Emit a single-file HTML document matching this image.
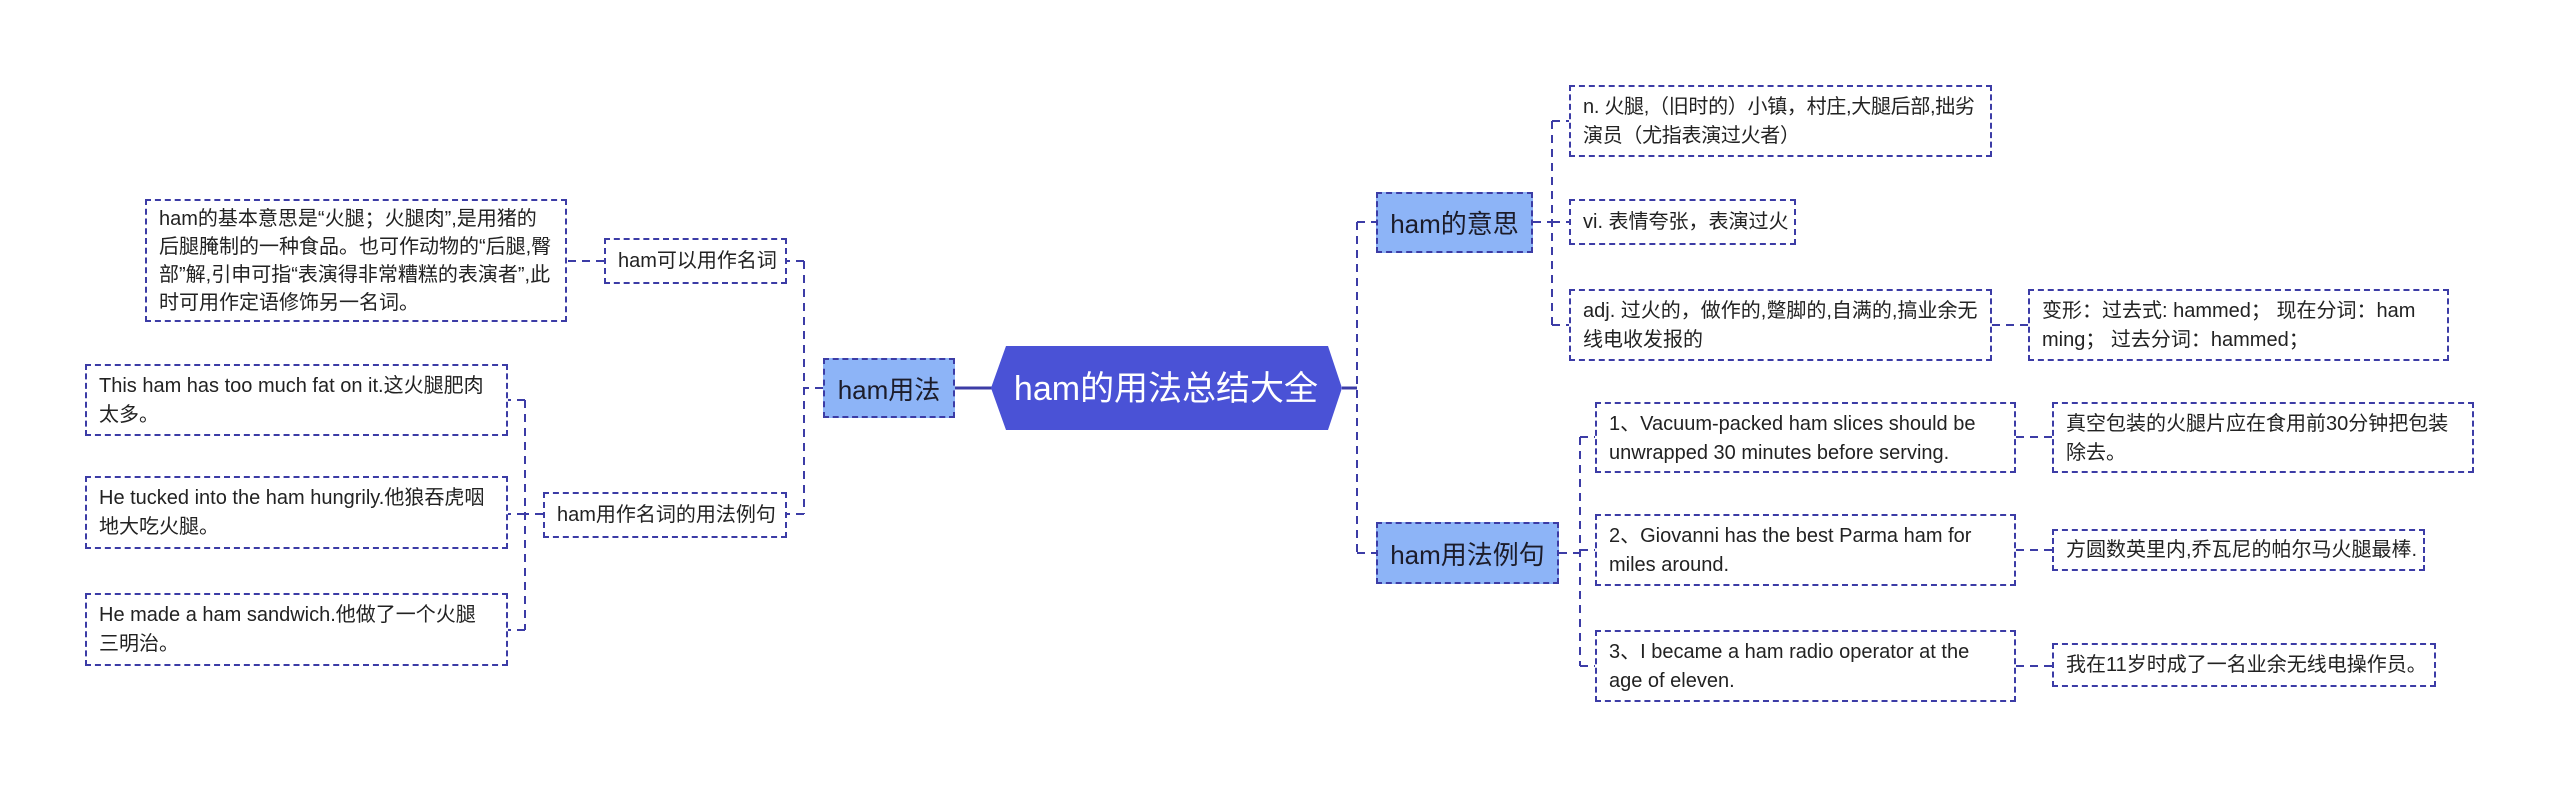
<!DOCTYPE html>
<html><head><meta charset="utf-8"><style>
html,body{margin:0;padding:0;background:#fff;}
body{width:2560px;height:789px;position:relative;overflow:hidden;font-family:"Liberation Sans","Noto Sans CJK SC",sans-serif;color:#222;}
.b{position:absolute;box-sizing:border-box;border:2px dashed #3c3ca6;font-size:20px;line-height:29px;padding:6px 12px;background:#fff;}
.nw{white-space:nowrap;overflow:hidden;}
.s{display:flex;align-items:center;white-space:nowrap;}
.br{position:absolute;box-sizing:border-box;border:2px dashed #3c3ca6;background:#8db4f7;font-size:26px;display:flex;align-items:center;justify-content:center;color:#1c1c2a;}
svg{position:absolute;left:0;top:0;}
</style></head><body>
<svg width="2560" height="789">
<g stroke="#3c3ca6" stroke-width="2" fill="none" stroke-dasharray="8,6">
<line x1="823" y1="388" x2="804" y2="388"/>
<line x1="804" y1="261" x2="804" y2="514"/>
<line x1="804" y1="261" x2="786" y2="261"/>
<line x1="804" y1="514" x2="786" y2="514"/>
<line x1="604" y1="261" x2="567" y2="261"/>
<line x1="543" y1="514" x2="525" y2="514"/>
<line x1="525" y1="400" x2="525" y2="630"/>
<line x1="525" y1="400" x2="506" y2="400"/>
<line x1="525" y1="514" x2="506" y2="514"/>
<line x1="525" y1="630" x2="506" y2="630"/>
<line x1="1357" y1="222" x2="1357" y2="553"/>
<line x1="1357" y1="222" x2="1376" y2="222"/>
<line x1="1357" y1="553" x2="1376" y2="553"/>
<line x1="1533" y1="222" x2="1552" y2="222"/>
<line x1="1552" y1="121" x2="1552" y2="325"/>
<line x1="1552" y1="121" x2="1570" y2="121"/>
<line x1="1552" y1="222" x2="1570" y2="222"/>
<line x1="1552" y1="325" x2="1570" y2="325"/>
<line x1="1992" y1="325" x2="2028" y2="325"/>
<line x1="1559" y1="553" x2="1580" y2="553"/>
<line x1="1580" y1="437" x2="1580" y2="666"/>
<line x1="1580" y1="437" x2="1595" y2="437"/>
<line x1="1580" y1="550" x2="1595" y2="550"/>
<line x1="1580" y1="666" x2="1595" y2="666"/>
<line x1="2016" y1="437" x2="2052" y2="437"/>
<line x1="2016" y1="550" x2="2052" y2="550"/>
<line x1="2016" y1="666" x2="2052" y2="666"/>
</g>
<g stroke="#3c3ca6" stroke-width="3">
<line x1="955" y1="388" x2="993" y2="388"/>
<line x1="1342" y1="388" x2="1357" y2="388"/>
</g>
<polygon points="1006,346 1328,346 1342,388 1328,430 1006,430 991,388" fill="#4a52d6"/>
<text x="1166" y="400" fill="#fff" font-size="34" text-anchor="middle" font-family="Liberation Sans, Noto Sans CJK SC, sans-serif">ham的用法总结大全</text>
</svg>

<div class="br" style="left:823px;top:358px;width:132px;height:60px;">ham用法</div>
<div class="b s" style="left:604px;top:238px;width:183px;height:46px;">ham可以用作名词</div>
<div class="b s" style="left:543px;top:492px;width:244px;height:46px;">ham用作名词的用法例句</div>
<div class="b" style="left:145px;top:199px;width:422px;height:123px;padding-top:4px;line-height:28px;">ham的基本意思是“火腿；火腿肉”,是用猪的后腿腌制的一种食品。也可作动物的“后腿,臀部”解,引申可指“表演得非常糟糕的表演者”,此时可用作定语修饰另一名词。</div>
<div class="b" style="left:85px;top:364px;width:423px;height:72px;">This ham has too much fat on it.这火腿肥肉太多。</div>
<div class="b" style="left:85px;top:476px;width:423px;height:73px;">He tucked into the ham hungrily.他狼吞虎咽地大吃火腿。</div>
<div class="b" style="left:85px;top:593px;width:423px;height:73px;">He made a ham sandwich.他做了一个火腿三明治。</div>

<div class="br" style="left:1376px;top:192px;width:157px;height:61px;">ham的意思</div>
<div class="br" style="left:1376px;top:522px;width:183px;height:62px;">ham用法例句</div>
<div class="b nw" style="left:1569px;top:85px;width:423px;height:72px;letter-spacing:-0.3px;">n. 火腿,（旧时的）小镇，村庄,大腿后部,拙劣<br>演员（尤指表演过火者）</div>
<div class="b s" style="left:1569px;top:199px;width:227px;height:46px;">vi. 表情夸张，表演过火</div>
<div class="b nw" style="left:1569px;top:289px;width:423px;height:72px;">adj. 过火的，做作的,蹩脚的,自满的,搞业余无<br>线电收发报的</div>
<div class="b nw" style="left:2028px;top:289px;width:421px;height:72px;">变形：过去式: hammed；  现在分词：ham<br>ming；  过去分词：hammed；</div>
<div class="b" style="left:1595px;top:402px;width:421px;height:71px;">1、Vacuum-packed ham slices should be unwrapped 30 minutes before serving.</div>
<div class="b" style="left:2052px;top:402px;width:422px;height:71px;">真空包装的火腿片应在食用前30分钟把包装除去。</div>
<div class="b" style="left:1595px;top:514px;width:421px;height:72px;">2、Giovanni has the best Parma ham for miles around.</div>
<div class="b s" style="left:2052px;top:529px;width:373px;height:42px;">方圆数英里内,乔瓦尼的帕尔马火腿最棒.</div>
<div class="b" style="left:1595px;top:630px;width:421px;height:72px;">3、I became a ham radio operator at the age of eleven.</div>
<div class="b s" style="left:2052px;top:643px;width:384px;height:44px;">我在11岁时成了一名业余无线电操作员。</div>
</body></html>
